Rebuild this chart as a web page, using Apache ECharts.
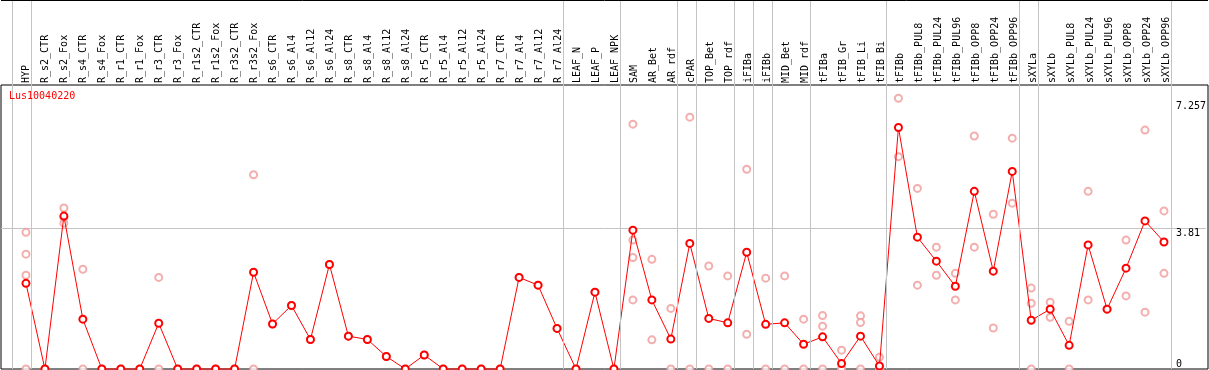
<!DOCTYPE html>
<html>
<head>
<meta charset="utf-8">
<script src="https://cdn.jsdelivr.net/npm/echarts@6/dist/echarts.min.js"></script>
<style>
html,body{margin:0;padding:0;background:#fff;}
#chart{width:1209px;height:370px;}
</style>
</head>
<body>
<div id="chart"></div>
<script>
// ---------- DATA ----------
const categories = ["HYP","R_s2_CTR","R_s2_Fox","R_s4_CTR","R_s4_Fox","R_r1_CTR","R_r1_Fox","R_r3_CTR","R_r3_Fox",
"R_r1s2_CTR","R_r1s2_Fox","R_r3s2_CTR","R_r3s2_Fox","R_s6_CTR","R_s6_Al4","R_s6_Al12","R_s6_Al24",
"R_s8_CTR","R_s8_Al4","R_s8_Al12","R_s8_Al24","R_r5_CTR","R_r5_Al4","R_r5_Al12","R_r5_Al24",
"R_r7_CTR","R_r7_Al4","R_r7_Al12","R_r7_Al24","LEAF_N","LEAF_P","LEAF_NPK","SAM","AR_Bet","AR_rdf",
"cPAR","TOP_Bet","TOP_rdf","iFIBa","iFIBb","MID_Bet","MID_rdf","tFIBa","tFIB_Gr","tFIB_Li","tFIB_Bi",
"tFIBb","tFIBb_PUL8","tFIBb_PUL24","tFIBb_PUL96","tFIBb_OPP8","tFIBb_OPP24","tFIBb_OPP96",
"sXYLa","sXYLb","sXYLb_PUL8","sXYLb_PUL24","sXYLb_PUL96","sXYLb_OPP8","sXYLb_OPP24","sXYLb_OPP96"];

const means = [2.32,0,4.14,1.35,0,0,0,1.24,0,0,0,0,2.62,1.22,1.72,0.80,2.83,0.89,0.80,0.34,0,0.38,0,0,0,0,
2.48,2.27,1.10,0,2.08,0,3.76,1.87,0.81,3.40,1.37,1.25,3.16,1.21,1.25,0.67,0.87,0.15,0.89,0.08,
6.54,3.57,2.92,2.24,4.81,2.65,5.35,1.32,1.62,0.64,3.36,1.62,2.73,4.01,3.44];

const replicates = [
[3.70,3.11,2.54,0],[0],[4.36,4.10,3.95],[2.70,0],[0],[0],[0],[2.48,0],[0],[0],[0],[0],[5.26,0],
[1.22],[1.72],[0.80],[2.83],[0.89],[0.80],[0.34],[0],[0.38],[0],[0],[0],[0],[2.48],[2.27],[1.10],
[0],[2.08],[0],[6.63,3.49,3.02,1.87],[2.97,0.79],[1.64,0],[6.82,0],[2.79,0],[2.52,0],[5.41,0.94],
[2.46,0],[2.52,0],[1.35,0],[1.45,1.16,0],[0.51,0,0],[1.44,1.26,0],[0.32,0,0,0],
[7.33,5.75],[4.89,2.27],[3.30,2.54],[2.59,1.87],[6.31,3.30],[4.19,1.11],[6.25,4.49],
[2.19,1.78,0],[1.81,1.40],[1.29,0],[4.81,1.87],[1.62],[3.49,1.98],[6.47,1.54],[4.28,2.59]];

const yTickMax = 7.257;
const yTickStep = 3.81;
const geneName = "Lus10040220";
// group separators are drawn right after these category indices (-1 = before the first)
const groupEnds = [-1,0,28,31,34,35,37,38,39,41,45,52,53,60];

// ---------- LAYOUT ----------
const W = 1209;
const plotL = 1, plotR = 1208, headerBottom = 85, plotBottom = 369, dataTop = 101;
const step = 19, firstCenter = 26;
const xMin = -(firstCenter - plotL) / step;
const xMax = xMin + (plotR - plotL) / step;
const sepOffset = 5 / step;
const FONT = "DejaVu Sans Mono";

const meanData = means.map((v, i) => [i, v]);
const repData = [];
replicates.forEach((arr, i) => arr.forEach(v => repData.push([i, v])));

const chart = echarts.init(document.getElementById('chart'), null, {renderer: 'canvas'});
const hidden = {show: false};
const frameLine = {silent: true, symbol: ['none', 'none'], label: {show: false}, animation: false};

chart.setOption({
  animation: false,
  backgroundColor: '#fff',
  title: {
    text: geneName, left: 9, top: 91, padding: 0,
    textStyle: {color: '#ff0000', fontSize: 10, fontWeight: 'normal', fontFamily: FONT}
  },
  grid: [
    {left: plotL, right: W - plotR, top: dataTop, bottom: 370 - plotBottom, show: false},
    {left: plotL, right: W - plotR, top: 0.5, bottom: 370 - plotBottom, show: false},
    {left: plotL, right: W - plotR, top: headerBottom, bottom: 370 - plotBottom, show: true, borderColor: '#000', borderWidth: 1, backgroundColor: 'rgba(0,0,0,0)'},
    {left: firstCenter - step / 2, right: W - (firstCenter - step / 2 + step * categories.length), top: headerBottom, bottom: 370 - plotBottom, show: false}
  ],
  xAxis: [
    {gridIndex: 0, type: 'value', min: xMin, max: xMax, axisLine: hidden, axisTick: hidden, axisLabel: hidden, splitLine: hidden},
    {gridIndex: 1, type: 'value', min: xMin, max: xMax, axisLine: hidden, axisTick: hidden, axisLabel: hidden, splitLine: hidden},
    {gridIndex: 2, type: 'value', min: xMin, max: xMax, axisLine: hidden, axisTick: hidden, axisLabel: hidden, splitLine: hidden},
    {gridIndex: 3, type: 'category', data: categories, boundaryGap: true, position: 'top',
     axisLine: hidden, axisTick: hidden, splitLine: hidden,
     axisLabel: {show: true, interval: 0, rotate: 90, margin: 2, color: '#000', fontSize: 10, fontFamily: FONT}}
  ],
  yAxis: [
    {gridIndex: 0, type: 'value', position: 'right', min: 0, max: yTickMax, interval: yTickStep,
     axisLine: hidden, axisTick: hidden,
     splitLine: {show: true, lineStyle: {color: ['rgba(0,0,0,0)', '#c4c4c4', 'rgba(0,0,0,0)'], width: 1}},
     axisLabel: {show: true, inside: true, align: 'left', verticalAlign: 'top', margin: 30, color: '#000',
       fontSize: 10, fontFamily: FONT, formatter: v => (v === 0 ? '' : String(v))}},
    {gridIndex: 0, type: 'value', position: 'right', min: 0, max: yTickMax, interval: yTickStep,
     axisLine: hidden, axisTick: hidden, splitLine: hidden,
     axisLabel: {show: true, inside: true, align: 'left', verticalAlign: 'bottom', margin: 30, color: '#000',
       fontSize: 10, fontFamily: FONT, formatter: v => (v === 0 ? '0' : '')}},
    {gridIndex: 1, type: 'value', min: 0, max: 1, show: false},
    {gridIndex: 2, type: 'value', min: 0, max: 1, show: false},
    {gridIndex: 3, type: 'value', min: 0, max: 1, show: false}
  ],
  series: [
    {
      type: 'line', xAxisIndex: 1, yAxisIndex: 2, data: [], silent: true, z: 1,
      markLine: Object.assign({}, frameLine, {
        lineStyle: {color: '#c4c4c4', width: 1, type: 'solid'},
        data: groupEnds.map(i => ({xAxis: i + sepOffset}))
      })
    },
    {
      type: 'line', xAxisIndex: 1, yAxisIndex: 2, data: [], silent: true, z: 2,
      markLine: Object.assign({}, frameLine, {
        lineStyle: {color: '#000', width: 1, type: 'solid'},
        data: [{xAxis: xMin}, {yAxis: 1}]
      })
    },
    {
      type: 'scatter', xAxisIndex: 0, yAxisIndex: 0, data: repData, clip: false, z: 3,
      symbol: 'emptyCircle', symbolSize: 7,
      itemStyle: {color: '#f09a9a', borderColor: '#f09a9a', borderWidth: 1.3}
    },
    {
      type: 'line', xAxisIndex: 0, yAxisIndex: 0, data: meanData, clip: false, z: 4,
      symbol: 'emptyCircle', symbolSize: 7, showAllSymbol: true,
      lineStyle: {color: '#ff0000', width: 1},
      itemStyle: {color: '#ff0000', borderColor: '#e00000', borderWidth: 1.6}
    }
  ]
});
</script>
</body>
</html>
